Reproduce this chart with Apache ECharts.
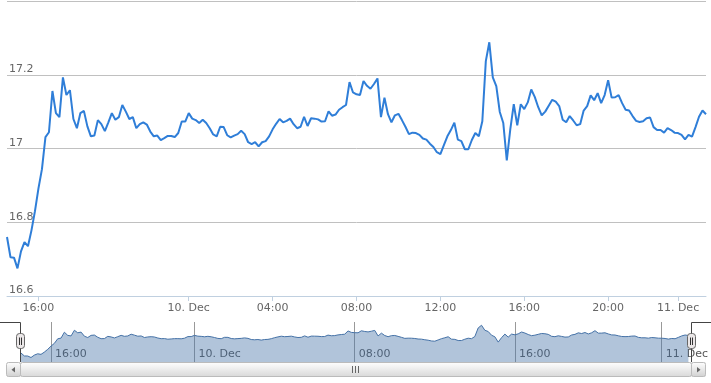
<!DOCTYPE html>
<html><head><meta charset="utf-8">
<script src="https://cdn.jsdelivr.net/npm/echarts@6/dist/echarts.min.js"></script>
<style>html,body{margin:0;padding:0;background:#fff}#c{width:711px;height:383px}</style>
</head><body><div id="c"></div>
<script>
// Price readings (10-minute points, ordinal axis without gaps)
const pricesSession1 = [16.76,16.705,16.704,16.675,16.721,16.746,16.735,16.778,16.83,16.892,16.944,17.031,17.044,17.156,17.096,17.085,17.193,17.145,17.158,17.08,17.055,17.096,17.102,17.06,17.033,17.035,17.077,17.066,17.047,17.071,17.096,17.078,17.085,17.118,17.10,17.08,17.085,17.055,17.066,17.071,17.065,17.046,17.033,17.035,17.023,17.028,17.034,17.034,17.031,17.042,17.073,17.073];
const pricesSession2 = [17.096,17.081,17.077,17.069,17.078,17.069,17.055,17.038,17.033,17.059,17.058,17.036,17.030,17.035,17.039,17.048,17.039,17.017,17.012,17.017,17.006,17.017,17.020,17.033,17.052,17.067,17.080,17.071,17.075,17.081,17.066,17.055,17.059,17.086,17.061,17.082,17.081,17.079,17.073,17.074,17.101,17.089,17.092,17.105,17.112,17.118,17.18,17.152];
const pricesSession3 = [17.147,17.145,17.183,17.170,17.162,17.175,17.19,17.085,17.138,17.093,17.071,17.090,17.094,17.077,17.059,17.039,17.043,17.042,17.037,17.027,17.024,17.013,17.004,16.990,16.985,17.009,17.033,17.050,17.07,17.024,17.020,16.998,16.998,17.023,17.042,17.033,17.074,17.237,17.288,17.193,17.169,17.099,17.069,16.968,17.052,17.12,17.063,17.12];
const pricesSession4 = [17.107,17.125,17.16,17.14,17.112,17.090,17.100,17.116,17.132,17.127,17.115,17.078,17.071,17.088,17.076,17.063,17.066,17.103,17.115,17.144,17.131,17.15,17.123,17.145,17.185,17.138,17.139,17.145,17.123,17.105,17.103,17.088,17.075,17.072,17.074,17.082,17.084,17.058,17.050,17.050,17.043,17.055,17.050,17.043,17.042,17.037,17.025,17.037,17.032,17.058,17.086,17.103,17.093];
const prices = [].concat(pricesSession1, pricesSession2, pricesSession3, pricesSession4);
const categories = prices.map((_, i) => String(i));

const mainTickIndex = [9, 52, 76, 100, 124, 148, 172, 192];
const mainTickLabels = ['16:00', '10. Dec', '04:00', '08:00', '12:00', '16:00', '20:00', '11. Dec'];
const navTickIndex = [9, 52, 100, 148, 192];
const navTickLabels = ['16:00', '10. Dec', '08:00', '16:00', '11. Dec'];
const yMin = 16.6, yMax = 17.4, yStep = 0.2;
const navMin = 16.59, navMax = 17.35;

const FONT = 'DejaVu Sans, Verdana, sans-serif';
const isMainTick = (i) => mainTickIndex.indexOf(i) >= 0;
const isNavTick = (i) => navTickIndex.indexOf(i) >= 0;
const vGrad = (a, b) => ({type: 'linear', x: 0, y: 0, x2: 0, y2: 1, colorStops: [{offset: 0, color: a}, {offset: 1, color: b}]});

const chart = echarts.init(document.getElementById('c'));
chart.setOption({
  animation: false,
  backgroundColor: '#ffffff',
  grid: [
    {left: 7, right: 5, top: 1, height: 295},
    {left: 21, right: 19, top: 322, height: 40}
  ],
  xAxis: [
    {
      type: 'category', gridIndex: 0, data: categories, boundaryGap: false,
      axisLine: {lineStyle: {color: '#C0D0E0', width: 1}},
      axisTick: {show: true, length: 5, interval: isMainTick, lineStyle: {color: '#C0D0E0'}},
      axisLabel: {
        interval: isMainTick, margin: 7, color: '#666', fontSize: 11, fontFamily: FONT,
        formatter: (v, i) => mainTickLabels[mainTickIndex.indexOf(i)] || ''
      },
      splitLine: {show: false}
    },
    {
      type: 'category', gridIndex: 1, data: categories, boundaryGap: false,
      axisLine: {show: false}, axisTick: {show: false},
      axisLabel: {
        inside: true, interval: isNavTick, margin: 2, align: 'left', padding: [0, 0, 0, 4],
        color: '#555', fontSize: 11, fontFamily: FONT,
        formatter: (v, i) => navTickLabels[navTickIndex.indexOf(i)] || ''
      },
      splitLine: {show: true, interval: isNavTick, lineStyle: {color: '#999', width: 1}}
    }
  ],
  yAxis: [
    {
      type: 'value', gridIndex: 0, min: yMin, max: yMax, interval: yStep,
      axisLine: {show: false}, axisTick: {show: false},
      axisLabel: {
        inside: true, margin: 2, verticalAlign: 'bottom', padding: [0, 0, 0, 0],
        color: '#666', fontSize: 11, fontFamily: FONT, showMaxLabel: false
      },
      splitLine: {lineStyle: {color: '#C0C0C0', width: 1}}
    },
    {
      type: 'value', gridIndex: 1, min: navMin, max: navMax,
      show: false, splitLine: {show: false}
    }
  ],
  series: [
    {
      type: 'line', xAxisIndex: 0, yAxisIndex: 0, data: prices, showSymbol: false, symbol: 'none',
      lineStyle: {color: '#2f7ed8', width: 2}, z: 3
    },
    {
      type: 'line', xAxisIndex: 1, yAxisIndex: 1, data: prices, showSymbol: false, symbol: 'none',
      lineStyle: {color: '#4572A7', width: 1},
      areaStyle: {color: 'rgba(69,114,167,0.42)', opacity: 1, origin: 'start'}, z: 2
    }
  ],
  graphic: [
    // navigator outline
    {type: 'polyline', z: 100, shape: {points: [[0, 322.5], [20.5, 322.5], [20.5, 362]]}, style: {stroke: '#444', lineWidth: 1, fill: null}},
    {type: 'polyline', z: 100, shape: {points: [[691.5, 362], [691.5, 322.5], [711, 322.5]]}, style: {stroke: '#444', lineWidth: 1, fill: null}},
    // scrollbar track
    {type: 'rect', z: 100, shape: {x: 7.5, y: 362.5, width: 698, height: 14}, style: {fill: vGrad('#eeeeee', '#ffffff'), stroke: '#eeeeee', lineWidth: 1}},
    // scrollbar bar
    {type: 'rect', z: 101, shape: {x: 20.5, y: 362.5, width: 671, height: 14, r: 2}, style: {fill: vGrad('#ffffff', '#d8d8d8'), stroke: '#bbbbbb', lineWidth: 1}},
    {type: 'line', z: 102, shape: {x1: 352.5, y1: 366, x2: 352.5, y2: 373}, style: {stroke: '#666', lineWidth: 1}},
    {type: 'line', z: 102, shape: {x1: 355.5, y1: 366, x2: 355.5, y2: 373}, style: {stroke: '#666', lineWidth: 1}},
    {type: 'line', z: 102, shape: {x1: 358.5, y1: 366, x2: 358.5, y2: 373}, style: {stroke: '#666', lineWidth: 1}},
    // scrollbar buttons
    {type: 'rect', z: 103, shape: {x: 6.5, y: 362.5, width: 14, height: 14, r: 2}, style: {fill: vGrad('#ffffff', '#d0d0d0'), stroke: '#bbbbbb', lineWidth: 1}},
    {type: 'polygon', z: 104, shape: {points: [[15, 367], [15, 372.5], [11.5, 369.75]]}, style: {fill: '#666'}},
    {type: 'rect', z: 103, shape: {x: 691.5, y: 362.5, width: 14, height: 14, r: 2}, style: {fill: vGrad('#ffffff', '#d0d0d0'), stroke: '#bbbbbb', lineWidth: 1}},
    {type: 'polygon', z: 104, shape: {points: [[697, 367], [697, 372.5], [700.5, 369.75]]}, style: {fill: '#666'}},
    // navigator handles
    {type: 'rect', z: 105, shape: {x: 16.5, y: 333.5, width: 8, height: 15, r: 3}, style: {fill: '#ebe7e8', stroke: '#666', lineWidth: 1}},
    {type: 'line', z: 106, shape: {x1: 19.5, y1: 337.5, x2: 19.5, y2: 345}, style: {stroke: '#333', lineWidth: 1}},
    {type: 'line', z: 106, shape: {x1: 21.5, y1: 337.5, x2: 21.5, y2: 345}, style: {stroke: '#333', lineWidth: 1}},
    {type: 'rect', z: 105, shape: {x: 687.5, y: 333.5, width: 8, height: 15, r: 3}, style: {fill: '#ebe7e8', stroke: '#666', lineWidth: 1}},
    {type: 'line', z: 106, shape: {x1: 690.5, y1: 337.5, x2: 690.5, y2: 345}, style: {stroke: '#333', lineWidth: 1}},
    {type: 'line', z: 106, shape: {x1: 692.5, y1: 337.5, x2: 692.5, y2: 345}, style: {stroke: '#333', lineWidth: 1}}
  ]
});
</script>
</body></html>
